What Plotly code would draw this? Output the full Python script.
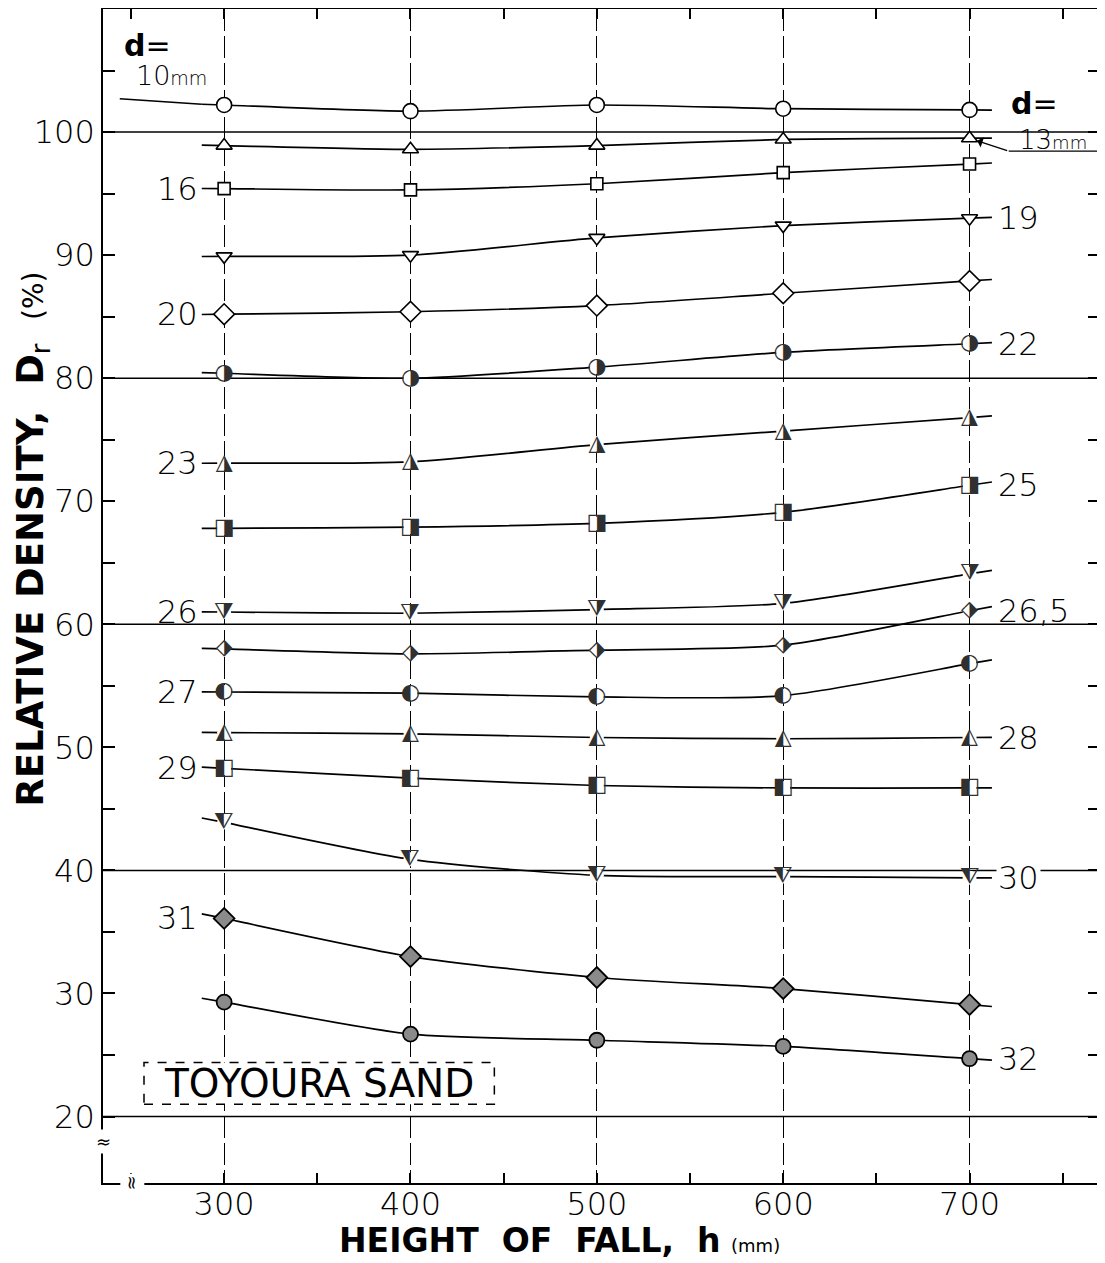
import plotly.graph_objects as go

# ---------------- data ----------------
height_mm = [300, 400, 500, 600, 700]

Dr_d10 = [102.2, 101.7, 102.2, 101.9, 101.8]
Dr_d13 = [98.9, 98.6, 98.9, 99.4, 99.5]
Dr_d16 = [95.4, 95.3, 95.8, 96.7, 97.4]
Dr_d19 = [89.9, 90.0, 91.4, 92.4, 93.0]
Dr_d20 = [85.2, 85.4, 85.9, 86.9, 87.9]
Dr_d22 = [80.4, 80.0, 80.9, 82.1, 82.8]
Dr_d23 = [73.1, 73.2, 74.6, 75.7, 76.8]
Dr_d25 = [67.8, 67.9, 68.2, 69.1, 71.3]
Dr_d26 = [61.0, 60.9, 61.2, 61.7, 64.1]
Dr_d265 = [58.0, 57.6, 57.9, 58.3, 61.1]
Dr_d27 = [54.5, 54.4, 54.1, 54.2, 56.8]
Dr_d28 = [51.2, 51.1, 50.8, 50.7, 50.8]
Dr_d29 = [48.3, 47.5, 46.9, 46.7, 46.7]
Dr_d30 = [43.9, 40.9, 39.6, 39.5, 39.4]
Dr_d31 = [36.1, 33.0, 31.3, 30.4, 29.1]
Dr_d32 = [29.3, 26.7, 26.2, 25.7, 24.7]

x_ticks = [300, 400, 500, 600, 700]
y_ticks = [20, 30, 40, 50, 60, 70, 80, 90, 100]
x_minor = [250, 350, 450, 550, 650, 750]
y_minor = [25, 35, 45, 55, 65, 75, 85, 95, 105]
grid_levels = [20, 40, 60, 80, 100]

left_labels = ["16", "20", "23", "26", "27", "29", "31"]
right_labels = ["19", "22", "25", "26,5", "28", "30", "32"]

# (label, values, kind, symbol-or-glyph)
series = [
    ("10", Dr_d10, "open", "circle"),
    ("13", Dr_d13, "open", "triangle-up"),
    ("16", Dr_d16, "open", "square"),
    ("19", Dr_d19, "open", "triangle-down"),
    ("20", Dr_d20, "open", "diamond"),
    ("22", Dr_d22, "half", "\u25D1"),
    ("23", Dr_d23, "half", "\u25EE"),
    ("25", Dr_d25, "half", "\u25E8"),
    ("26", Dr_d26, "half", "\u29E9"),
    ("26,5", Dr_d265, "half", "\u2B17"),
    ("27", Dr_d27, "half", "\u25D0"),
    ("28", Dr_d28, "half", "\u25ED"),
    ("29", Dr_d29, "half", "\u25E7"),
    ("30", Dr_d30, "half", "\u29E8"),
    ("31", Dr_d31, "gray", "diamond"),
    ("32", Dr_d32, "gray", "circle"),
]

FONT = "DejaVu Sans"
EXT = 12  # curve overhang beyond first/last measured point (x units)

fig = go.Figure()

sizes = {"circle": 15, "triangle-up": 14, "triangle-down": 14, "square": 12, "diamond": 16}

for lab, ys, kind, sym in series:
    xs = height_mm
    xl = xs[0] - EXT
    yl = ys[0] - (ys[1] - ys[0]) * EXT / (xs[1] - xs[0])
    xr = xs[-1] + EXT
    yr = ys[-1] + (ys[-1] - ys[-2]) * EXT / (xs[-1] - xs[-2])
    fig.add_trace(go.Scatter(
        x=[xl] + xs + [xr], y=[yl] + ys + [yr], mode="lines",
        line=dict(color="black", width=1.7, shape="spline", smoothing=0.7),
        hoverinfo="skip"))
    if kind == "open":
        fig.add_trace(go.Scatter(
            x=xs, y=ys, mode="markers",
            marker=dict(symbol=sym, size=sizes[sym], color="white",
                        line=dict(color="black", width=1.6))))
    elif kind == "gray":
        fig.add_trace(go.Scatter(
            x=xs, y=ys, mode="markers",
            marker=dict(symbol=sym, size=sizes[sym], color="#8a8a8a",
                        line=dict(color="black", width=1.8))))
    else:
        fig.add_trace(go.Scatter(
            x=xs, y=ys, mode="markers+text",
            marker=dict(symbol="circle", size=14, color="white", line=dict(width=0)),
            text=[sym] * len(xs), textposition="middle center",
            textfont=dict(family=FONT, size=22, color="#303030")))

LBL = dict(family=FONT, size=32, color="black", weight=300)

annotations = []
for lab, ys, kind, sym in series:
    if lab in left_labels:
        annotations.append(dict(x=height_mm[0] - EXT - 1, y=ys[0], text=lab,
                                xanchor="right", yanchor="middle", showarrow=False,
                                font=LBL))
    elif lab in right_labels:
        annotations.append(dict(x=height_mm[-1] + EXT + 2, y=ys[-1], text=lab,
                                xanchor="left", yanchor="middle", showarrow=False,
                                bgcolor="white" if lab == "30" else None,
                                font=LBL))

annotations += [
    # d = 10 mm label
    dict(x=259, y=107.0, text="<b>d</b>=", showarrow=False,
         font=dict(family=FONT, size=30, color="black")),
    dict(x=271.5, y=104.6, text="10<span style='font-size:19px'>mm</span>", showarrow=False,
         font=dict(family=FONT, size=27, color="black", weight=300)),
    # d = 13 mm label with arrow
    dict(x=735, y=102.3, text="<b>d</b>=", showarrow=False,
         font=dict(family=FONT, size=30, color="black")),
    dict(x=745, y=99.35, text="13<span style='font-size:18px'>mm</span>", showarrow=False,
         font=dict(family=FONT, size=26, color="black", weight=300)),
    dict(x=height_mm[-1], y=Dr_d13[-1], ax=721, ay=98.45, axref="x", ayref="y",
         text="", showarrow=True, arrowhead=1, arrowsize=1.3, arrowwidth=1.4,
         arrowcolor="black", standoff=8),
    # box label
    dict(x=351, y=22.7, text="TOYOURA SAND", showarrow=False,
         font=dict(family=FONT, size=39, color="black")),
    # axis titles
    dict(xref="paper", yref="paper", x=-0.071, y=0.548, textangle=-90,
         xanchor="center", yanchor="middle",
         text="<b>RELATIVE DENSITY,  D</b><sub>r</sub>  <span style='font-size:28px'>(%)</span>",
         showarrow=False, font=dict(family=FONT, size=37, color="black")),
    dict(xref="paper", yref="paper", x=0.458, y=-0.049, xanchor="center", yanchor="middle",
         text="<b>HEIGHT  OF  FALL,  h</b> <span style='font-size:18px'>(mm)</span>",
         showarrow=False, font=dict(family=FONT, size=33, color="black")),
    # axis break marks
    dict(xref="paper", x=0.0, y=18.0, text="≈", showarrow=False, textangle=0,
         xanchor="center", yanchor="middle", bgcolor="white",
         font=dict(family=FONT, size=18, color="black")),
    dict(x=251, yref="paper", y=0.0, text="≈", showarrow=False, textangle=90,
         xanchor="center", yanchor="middle", bgcolor="white",
         font=dict(family=FONT, size=18, color="black")),
]

shapes = [dict(type="line", xref="paper", x0=0, x1=1, yref="y", y0=g, y1=g,
               line=dict(color="black", width=1.5), layer="between")
          for g in grid_levels]
shapes.append(dict(type="rect", xref="x", yref="y", x0=257, x1=445, y0=21.0, y1=24.4,
                   line=dict(color="black", width=1.5, dash="dash"),
                   fillcolor="white", layer="between"))
# leader under "13mm"
shapes.append(dict(type="line", xref="x", yref="y", x0=721, x1=770, y0=98.45, y1=98.45,
                   line=dict(color="black", width=1.4), layer="between"))
# leader under "10mm" to the first d=10 point
shapes.append(dict(type="line", xref="x", yref="y", x0=244, x1=height_mm[0] - EXT,
                   y0=102.7, y1=Dr_d10[0] + 0.05,
                   line=dict(color="black", width=1.5), layer="between"))

TICKF = dict(family=FONT, size=32, color="black", weight=300)

# page body adds an 8px offset, so the figure is 8px smaller and margins shifted
fig.update_layout(
    width=1097, height=1255,
    margin=dict(l=95, r=5, t=1, b=80, autoexpand=False),
    plot_bgcolor="white", paper_bgcolor="white",
    showlegend=False,
    annotations=annotations, shapes=shapes,
    xaxis=dict(range=[235, 770], tickvals=x_ticks, ticks="inside", ticklen=10,
               tickwidth=1.5, tickcolor="black", showline=True, linecolor="black",
               linewidth=1.6, mirror="ticks", showgrid=True, gridcolor="black",
               gridwidth=1.2, griddash="22px,5px", zeroline=False, automargin=False,
               tickfont=TICKF, ticklabelstandoff=-8,
               minor=dict(tickvals=x_minor, ticks="inside", ticklen=10,
                          tickwidth=1.5, tickcolor="black", showgrid=False)),
    yaxis=dict(range=[14.6, 110], tickvals=y_ticks, ticks="inside", ticklen=12,
               tickwidth=1.5, tickcolor="black", showline=True, linecolor="black",
               linewidth=1.6, mirror="ticks", showgrid=False, zeroline=False,
               automargin=False, tickfont=TICKF,
               minor=dict(tickvals=y_minor, ticks="inside", ticklen=12,
                          tickwidth=1.5, tickcolor="black", showgrid=False)),
)

fig.write_html("out.html")
